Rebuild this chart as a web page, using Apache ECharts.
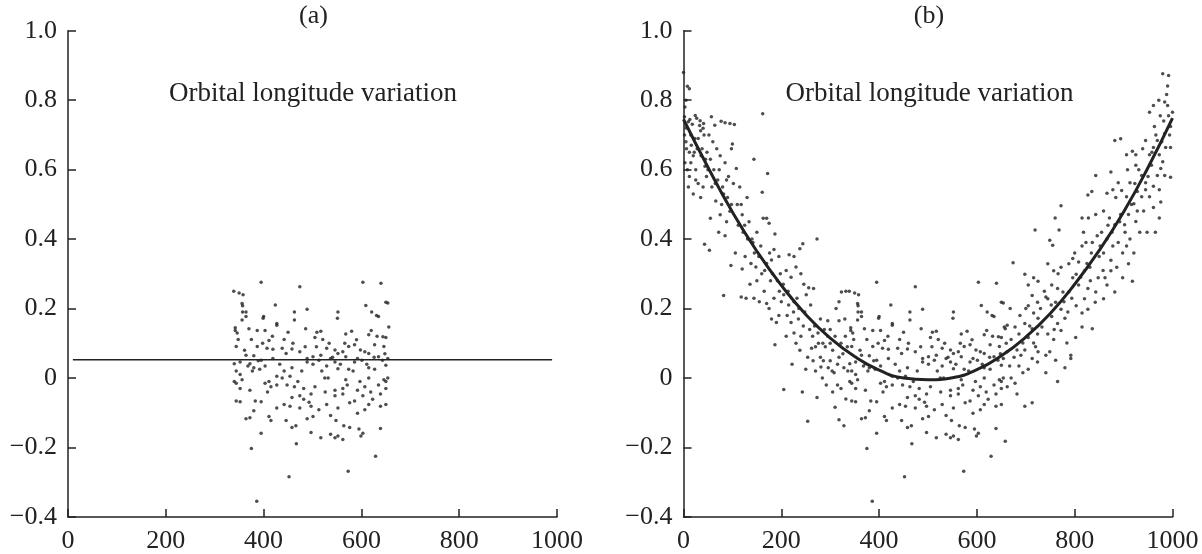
<!DOCTYPE html>
<html>
<head>
<meta charset="utf-8">
<script src="https://cdn.jsdelivr.net/npm/echarts@6/dist/echarts.min.js"></script>
<style>
html,body{margin:0;padding:0;background:#fff;}
#c{width:1202px;height:554px;}
</style>
</head>
<body>
<div id="c"></div>
<script>
// ---- data ----
const xTicks = [0, 200, 400, 600, 800, 1000];
const yTicks = [-0.4, -0.2, 0, 0.2, 0.4, 0.6, 0.8, 1.0];
const panelTitles = ['(a)', '(b)'];
const insideLabel = 'Orbital longitude variation';

// horizontal fitted line in panel (a)
const fitA = [[10, 0.053], [990, 0.053]];
// fitted curve in panel (b)
const fitB = [[0,0.745],[50,0.607],[100,0.478],[150,0.365],[200,0.267],[250,0.183],[300,0.115],[350,0.062],[400,0.023],[450,0.000],[500,-0.005],[550,0.001],[600,0.024],[650,0.064],[700,0.118],[750,0.186],[800,0.270],[850,0.367],[900,0.478],[950,0.606],[1000,0.748]];

const ptsLeft = [
[0,0.88],[5,0.80],[8,0.84],[3,0.78],[2,0.752],[5,0.72],[10,0.738],[15,0.70],[2,0.70],[5,0.68],[12,0.65],[3,0.62],[8,0.60],[15,0.62],[20,0.64],[25,0.60],[22,0.65],[28,0.66],[30,0.69],[35,0.712],[18,0.731],[27,0.748],[33,0.727],[40,0.719],[42,0.70],[38,0.66],[45,0.63],[48,0.65],[30,0.56],[35,0.52],[40,0.55],[25,0.57],[12,0.58],[44,0.61],[10,0.55],[20,0.53],[47,0.58],[13,0.744],[24,0.756],[34,0.741],[41,0.733],[12,0.833],
[43,0.385],[53,0.368],[77,0.739],[95,0.733],[100,0.674],[98,0.66],[57,0.752],[64,0.728],[85,0.735],[52,0.70],[60,0.68],[68,0.66],[75,0.64],[85,0.62],[62,0.60],[70,0.57],[80,0.55],[90,0.52],[58,0.55],[66,0.51],[75,0.47],[88,0.45],[95,0.48],[55,0.46],[72,0.42],[85,0.41],[92,0.58],[98,0.50],[78,0.50],[82,0.53],[104,0.73],
[108,0.603],[115,0.55],[120,0.47],[125,0.44],[106,0.36],[120,0.314],[97,0.324],[82,0.238],[118,0.233],[128,0.23],[144,0.23],[136,0.27],[150,0.28],[144,0.63],[161,0.535],[170,0.46],[150,0.42],[140,0.40],[131,0.40],[145,0.36],[130,0.52],[118,0.50],[112,0.44],[126,0.35],[138,0.33],[148,0.32],
[162,0.761],[172,0.589],[163,0.46],[175,0.446],[187,0.415],[185,0.37],[195,0.35],[180,0.34],[170,0.33],[160,0.30],[165,0.25],[175,0.20],[180,0.17],[190,0.16],[195,0.18],[185,0.23],[200,0.22],[187,0.096],[170,0.215],[155,0.22],[198,0.30],[192,0.28],[158,0.38],[178,0.28],
[205,-0.033],[222,0.04],[243,-0.04],[250,0.025],[254,-0.124],[244,0.387],[238,0.372],[226,0.35],[216,0.355],[230,0.32],[210,0.31],[220,0.29],[240,0.30],[246,0.27],[251,0.24],[205,0.24],[215,0.21],[225,0.19],[235,0.17],[245,0.15],[240,0.12],[230,0.10],[210,0.12],[220,0.16],[262,0.086],[232,0.23],[212,0.18],
[273,0.40],[266,0.258],[256,0.26],[273,-0.056],[281,0.032],[284,0.0],[295,0.12],[280,0.17],[275,0.13],[290,0.09],[300,0.05],[260,0.21],[270,0.09],[285,0.10],[295,0.165],[300,0.14],[280,0.06],[265,0.05],[268,0.15],[288,0.14],
[310,-0.084],[318,-0.12],[328,-0.137],[318,0.22],[323,0.248],[332,0.25],[312,0.20],[318,0.165],[330,0.17],[310,0.12],[322,0.10],[335,0.09],[315,0.04],[328,0.03],[305,0.08],[332,-0.06],[315,-0.02],[300,0.10],[326,0.07],[308,0.015],
[6,0.66],[16,0.67],[23,0.69],[36,0.64],[50,0.60],[55,0.63],[65,0.56],[73,0.60],[88,0.57],[102,0.56],[110,0.50],[122,0.42],[134,0.45],[142,0.39],[154,0.35],[166,0.31],[176,0.36],[182,0.30],[196,0.25],[204,0.27],[214,0.25],[226,0.22],[236,0.20],[248,0.19],[258,0.14],[264,0.12],[276,0.10],[286,0.05],[296,0.03],[304,0.02],[318,0.06],[331,0.12],[226,0.13],[238,0.08],[254,0.06],[270,0.02],[292,-0.02],[305,-0.04],[322,-0.03],[336,0.02]
];

const ptsMid = [
[339,0.25],[350,0.245],[358,0.24],[395,0.276],[474,0.263],[603,0.276],[640,0.273],[654,0.216],[424,0.21],[609,0.209],[356,0.215],[357,0.208],[364,0.19],[357,0.19],[463,0.19],[489,0.198],[552,0.19],[621,0.19],[635,0.177],[631,0.18],
[342,0.145],[342,0.137],[364,0.177],[400,0.177],[399,0.172],[463,0.167],[427,0.157],[427,0.152],[551,0.172],[356,0.167],[370,0.142],[387,0.137],[403,0.137],[450,0.132],[486,0.142],[509,0.132],[517,0.135],[620,0.137],[656,0.147],[650,0.117],[644,0.119],
[348,0.111],[375,0.111],[411,0.108],[442,0.111],[505,0.117],[521,0.111],[568,0.127],[580,0.135],[615,0.125],[387,0.091],[407,0.086],[419,0.083],[438,0.086],[458,0.084],[344,0.091],[529,0.086],[546,0.081],[562,0.076],[574,0.091],[586,0.096],[598,0.081],[607,0.076],[627,0.096],[646,0.091],
[364,0.066],[380,0.064],[446,0.071],[474,0.076],[489,0.056],[501,0.061],[517,0.066],[537,0.056],[552,0.071],[568,0.061],[592,0.056],[615,0.071],[635,0.061],[643,0.051],[352,0.046],[372,0.041],[395,0.051],[419,0.056],[489,0.046],[513,0.051],[529,0.035],[546,0.046],[586,0.046],[601,0.051],
[340,0.041],[344,0.02],[352,0.01],[368,0.035],[380,0.03],[392,0.025],[403,0.035],[442,0.02],[458,0.03],[501,0.04],[552,0.027],[574,0.025],[615,0.03],[627,0.025],[650,0.037],
[340,-0.01],[344,-0.015],[356,-0.005],[411,-0.01],[427,0.005],[438,0.0],[454,0.005],[525,0.0],[532,0.0],[568,-0.005],[615,0.0],[646,-0.005],[650,-0.01],
[352,-0.03],[372,-0.035],[403,-0.015],[415,-0.025],[427,-0.02],[463,-0.025],[482,-0.03],[505,-0.025],[546,-0.035],[562,-0.03],[592,-0.035],[607,-0.025],[635,-0.02],[650,-0.03],
[344,-0.066],[352,-0.068],[383,-0.066],[395,-0.068],[458,-0.056],[474,-0.051],[482,-0.061],[497,-0.046],[546,-0.051],[562,-0.046],[586,-0.066],[603,-0.051],[623,-0.061],[639,-0.046],
[380,-0.094],[427,-0.086],[442,-0.076],[454,-0.081],[474,-0.086],[497,-0.081],[513,-0.091],[529,-0.076],[552,-0.086],[576,-0.071],[607,-0.091],[615,-0.076],[639,-0.081],
[372,-0.114],[411,-0.111],[415,-0.122],[446,-0.122],[489,-0.117],[501,-0.111],[537,-0.108],[592,-0.101],[364,-0.117],[458,-0.142],[466,-0.137],[548,-0.122],[564,-0.137],[576,-0.142],[595,-0.147],[639,-0.145],
[395,-0.159],[497,-0.157],[517,-0.172],[537,-0.162],[546,-0.172],[552,-0.167],[562,-0.177],[599,-0.167],[603,-0.159],
[375,-0.203],[467,-0.189],[629,-0.225],[452,-0.284],[573,-0.268],[386,-0.355],
[346,0.13],[361,0.08],[377,0.02],[389,0.05],[398,0.1],[408,-0.04],[418,0.12],[433,0.04],[448,-0.02],[460,0.1],[470,-0.01],[478,0.02],[485,0.09],[493,-0.07],[508,0.09],[519,0.02],[526,-0.04],[534,0.1],[541,0.06],[557,0.04],[566,0.1],[571,-0.02],[583,0.02],[590,0.11],[597,-0.01],[611,0.04],[619,-0.04],[626,0.06],[632,0.12],[648,0.07]
];

const ptsRight = [
[674,0.332],[650,0.218],[662,0.152],[658,0.142],[678,0.147],[686,0.127],[670,0.111],[694,0.101],[662,0.076],[682,0.081],[690,0.066],[654,0.056],[667,0.035],[686,0.035],[654,0.0],[670,0.0],[678,-0.015],[662,-0.025],[682,-0.046],[658,-0.182],[650,-0.076],[694,0.015],
[698,0.299],[705,0.268],[716,0.289],[719,0.426],[725,0.279],[713,0.238],[724,0.218],[705,0.208],[716,0.187],[725,0.172],[698,0.157],[713,0.142],[724,0.127],[733,0.147],[705,0.117],[716,0.101],[698,0.081],[725,0.076],[713,0.056],[741,0.066],[705,0.025],[724,0.046],[698,-0.081],[713,-0.071],[741,0.015],[741,0.233],
[749,0.397],[755,0.382],[760,0.461],[772,0.496],[768,0.426],[745,0.329],[757,0.309],[772,0.319],[753,0.268],[765,0.258],[776,0.248],[745,0.228],[761,0.218],[772,0.198],[753,0.177],[765,0.157],[780,0.172],[745,0.127],[757,0.111],[772,0.137],[749,0.076],[761,0.051],[780,0.03],[765,-0.01],[784,0.101],[792,0.066],[788,0.248],[796,0.289],
[788,0.329],[796,0.344],[808,0.334],[815,0.38],[823,0.39],[836,0.39],[815,0.461],[828,0.461],[843,0.471],[835,0.537],[843,0.583],[827,0.527],[803,0.299],[820,0.309],[831,0.319],[808,0.268],[827,0.258],[843,0.248],[820,0.228],[836,0.142],[803,0.208],[815,0.187],[827,0.198],[815,0.147],[802,0.117],[792,0.056],[848,0.289],[842,0.218],[834,0.36],[850,0.35],
[882,0.684],[894,0.689],[874,0.593],[866,0.532],[878,0.542],[889,0.562],[859,0.481],[871,0.461],[882,0.441],[894,0.471],[855,0.42],[866,0.4],[878,0.38],[889,0.39],[859,0.36],[874,0.339],[886,0.319],[898,0.289],[862,0.289],[866,0.268],[882,0.248],[859,0.228],[874,0.309],[898,0.36],[903,0.42],
[906,0.643],[918,0.653],[925,0.613],[937,0.583],[913,0.562],[928,0.537],[906,0.522],[921,0.502],[937,0.522],[945,0.542],[910,0.471],[925,0.451],[902,0.441],[913,0.4],[906,0.38],[921,0.36],[910,0.329],[918,0.279],[925,0.643],[945,0.562],[941,0.481],[948,0.42],[928,0.481],[933,0.42],[945,0.684],[953,0.643],
[980,0.876],[992,0.871],[990,0.841],[988,0.816],[984,0.795],[972,0.8],[961,0.785],[953,0.765],[963,0.724],[975,0.755],[992,0.755],[996,0.724],[984,0.704],[969,0.684],[961,0.664],[986,0.664],[996,0.664],[973,0.643],[980,0.623],[957,0.613],[969,0.583],[996,0.578],[984,0.583],[961,0.552],[973,0.542],[953,0.522],[976,0.507],[973,0.461],[961,0.491],[965,0.42],[976,0.603],[1000,0.765],[990,0.785],[982,0.74],
[660,0.10],[668,0.2],[676,0.06],[688,0.18],[700,0.2],[708,0.15],[720,0.09],[730,0.2],[738,0.25],[752,0.21],[758,0.14],[766,0.3],[778,0.22],[786,0.19],[794,0.23],[800,0.36],[812,0.29],[818,0.42],[825,0.33],[832,0.28],[846,0.41],[852,0.38],[858,0.31],[868,0.44],[876,0.42],[884,0.52],[892,0.45],[896,0.54],[908,0.6],[916,0.5],[923,0.56],[931,0.6],[939,0.66],[950,0.58],[958,0.65],[966,0.7],[978,0.68],[994,0.7]
];

// ---- build chart ----
const ptsAll = ptsLeft.concat(ptsMid, ptsRight);
const ptsA = ptsAll.filter(p => p[0] >= 338 && p[0] <= 657);

const FONT = '"Liberation Serif", "DejaVu Serif", serif';
const INK = '#222';
const G_TOP = 30.7, G_H = 487.8, G_W = 489;
const LEFTS = [68, 683.5];

function yFmt(v) {
  const r = Math.round(v * 10) / 10;
  if (r === 0) return '0';
  return r < 0 ? '\u2212' + Math.abs(r).toFixed(1) : r.toFixed(1);
}
function xFmt(v) { return String(Math.round(v)); }

const grids = LEFTS.map(l => ({left: l, top: G_TOP, width: G_W, height: G_H, containLabel: false}));
const xAxes = LEFTS.map((l, i) => ({
  type: 'value', gridIndex: i, min: xTicks[0], max: xTicks[xTicks.length - 1], interval: xTicks[1] - xTicks[0],
  axisLine: {show: true, onZero: false, lineStyle: {color: INK, width: 1.5}},
  axisTick: {show: true, inside: true, length: 8, lineStyle: {color: INK, width: 1.5}},
  axisLabel: {color: INK, fontFamily: FONT, fontSize: 26, margin: 11, formatter: xFmt},
  splitLine: {show: false}
}));
const yAxes = LEFTS.map((l, i) => ({
  type: 'value', gridIndex: i, min: yTicks[0], max: yTicks[yTicks.length - 1], interval: 0.2,
  axisLine: {show: true, onZero: false, lineStyle: {color: INK, width: 1.5}},
  axisTick: {show: true, inside: true, length: 8, lineStyle: {color: INK, width: 1.5}},
  axisLabel: {color: INK, fontFamily: FONT, fontSize: 26, margin: 11, formatter: yFmt},
  splitLine: {show: false}
}));

const dotStyle = {color: '#222'};
const series = [
  {type: 'scatter', xAxisIndex: 0, yAxisIndex: 0, data: ptsA, symbolSize: 3.5, itemStyle: dotStyle, silent: true},
  {type: 'line', xAxisIndex: 0, yAxisIndex: 0, data: fitA, showSymbol: false, lineStyle: {color: INK, width: 1.5}, silent: true},
  {type: 'scatter', xAxisIndex: 1, yAxisIndex: 1, data: ptsAll, symbolSize: 3.5, itemStyle: dotStyle, silent: true},
  {type: 'line', xAxisIndex: 1, yAxisIndex: 1, data: fitB, smooth: true, showSymbol: false, lineStyle: {color: INK, width: 3}, silent: true}
];

const graphic = [];
LEFTS.forEach((l, i) => {
  graphic.push({type: 'text', x: l + G_W / 2 + 1, y: 16, style: {text: panelTitles[i], font: '26px ' + FONT, fill: INK, textAlign: 'center', textVerticalAlign: 'middle'}});
  graphic.push({type: 'text', x: l + 101 + (i ? 1 : 0), y: 94, style: {text: insideLabel, font: '27px ' + FONT, fill: INK, textAlign: 'left', textVerticalAlign: 'middle'}});
});

const chart = echarts.init(document.getElementById('c'), null, {renderer: 'canvas'});
chart.setOption({
  animation: false,
  backgroundColor: '#fff',
  grid: grids, xAxis: xAxes, yAxis: yAxes, series: series, graphic: graphic
});
</script>
</body>
</html>
